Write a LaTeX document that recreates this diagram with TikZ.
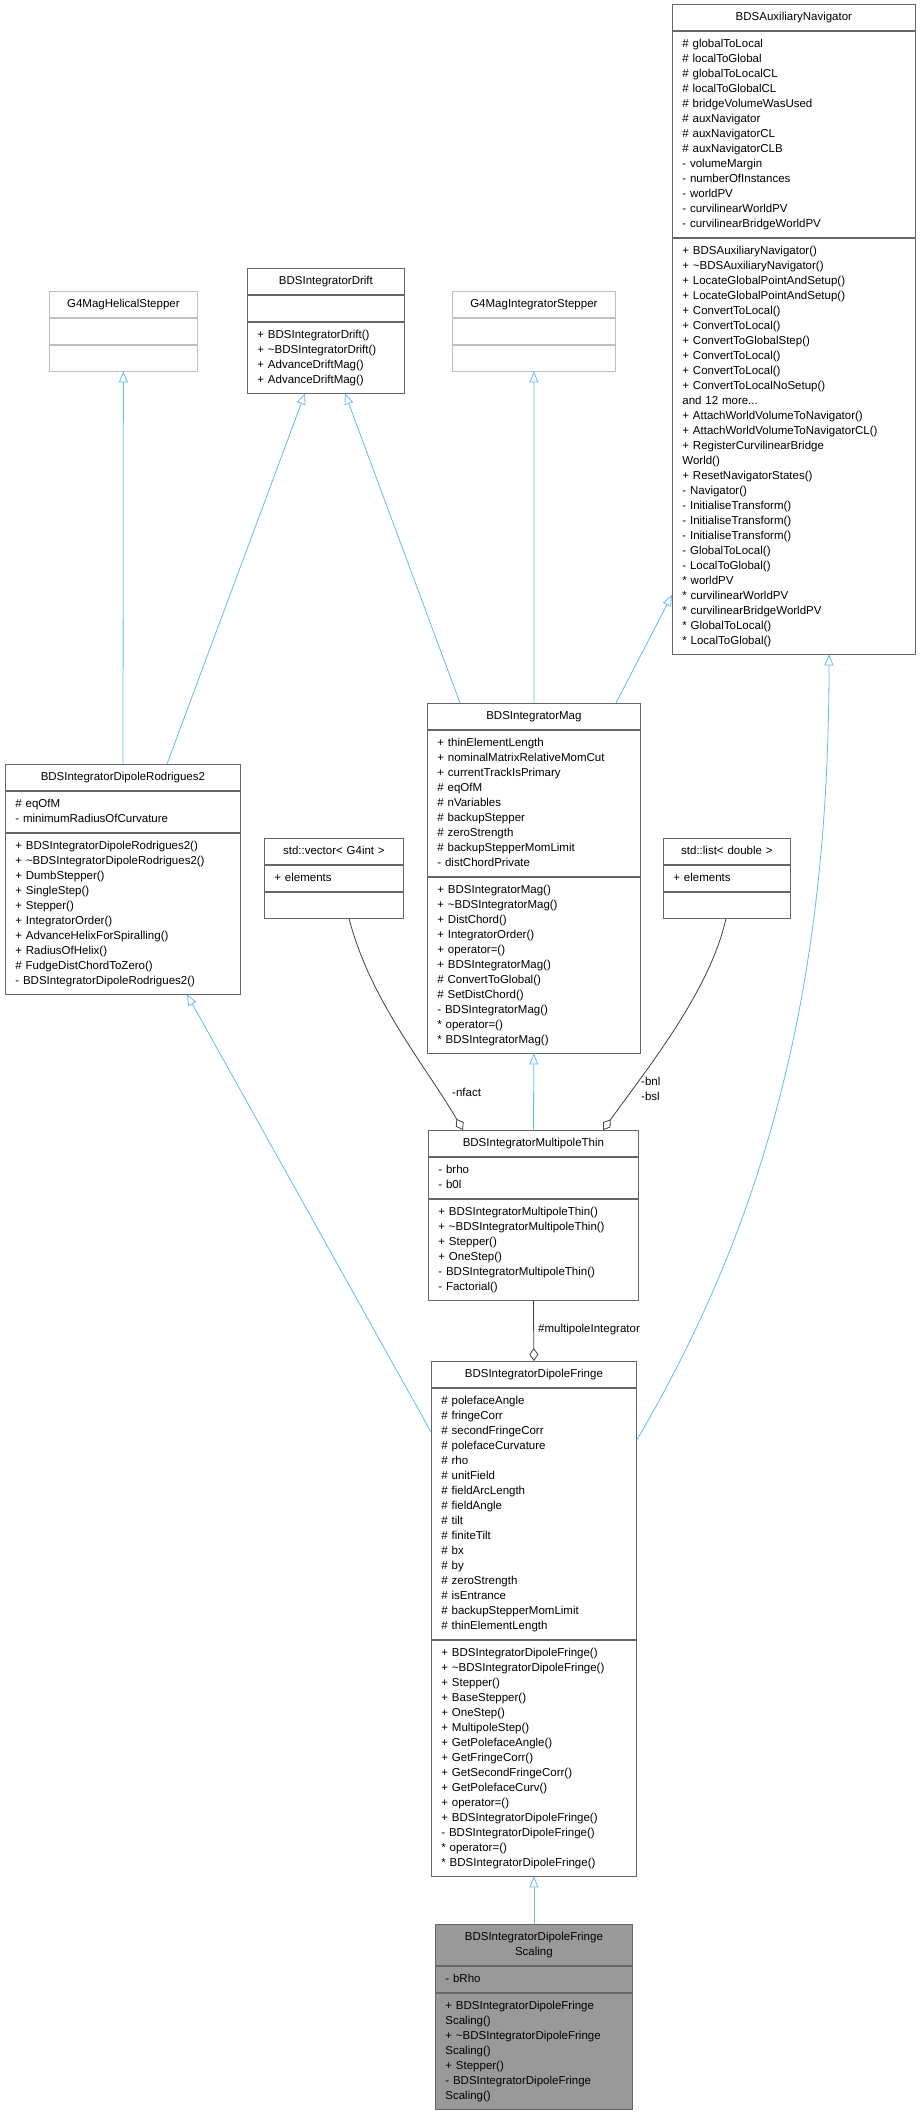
\documentclass[tikz,border=0pt]{standalone}
\usepackage{fontspec}
\setmainfont{Liberation Sans}
\usetikzlibrary{arrows.meta,calc}
\definecolor{inhc}{RGB}{99,184,255}
\definecolor{boxc}{RGB}{102,102,102}
\definecolor{g4c}{RGB}{191,191,191}
\definecolor{scf}{RGB}{153,153,153}
\tikzset{
 sect/.style={draw=boxc, line width=0.8pt, inner xsep=10pt, inner ysep=5.5pt, font=\fontsize{11.5}{15}\selectfont,
   execute at begin node=\strut, execute at end node=\strut, fill=white},
 g4box/.style={draw=g4c},
 gbox/.style={fill=scf},
 plain/.style={},
 inh/.style={draw=inhc, line width=0.8pt, -{Triangle[fill=white,length=11pt,width=9pt]}},
 agg/.style={draw=black!75, line width=0.8pt, {Diamond[fill=white,length=13pt,width=9pt]}-},
 lbl/.style={font=\fontsize{11.5}{15}\selectfont, inner sep=0pt, align=left}
}
\newcommand\umlclass[8]{%
 \node[sect,#8,anchor=north west,text width=#4pt-20pt,align=center] (#1t) at (#2,#3) {#5};
 \node[sect,#8,anchor=north west,text width=#4pt-20pt,align=left] (#1a) at (#1t.south west) {#6};
 \node[sect,#8,anchor=north west,text width=#4pt-20pt,align=left] (#1m) at (#1a.south west) {#7};
}
\begin{document}
\begin{tikzpicture}[x=1pt,y=-1pt]
\useasboundingbox (0,0) rectangle (920,2112);
\umlclass{aux}{672}{4}{243}{BDSAuxiliaryNavigator}
{\# globalToLocal\\\# localToGlobal\\\# globalToLocalCL\\\# localToGlobalCL\\\# bridgeVolumeWasUsed\\\# auxNavigator\\\# auxNavigatorCL\\\# auxNavigatorCLB\\- volumeMargin\\- numberOfInstances\\- worldPV\\- curvilinearWorldPV\\- curvilinearBridgeWorldPV}
{+ BDSAuxiliaryNavigator()\\+ \textasciitilde BDSAuxiliaryNavigator()\\+ LocateGlobalPointAndSetup()\\+ LocateGlobalPointAndSetup()\\+ ConvertToLocal()\\+ ConvertToLocal()\\+ ConvertToGlobalStep()\\+ ConvertToLocal()\\+ ConvertToLocal()\\+ ConvertToLocalNoSetup()\\and 12 more...\\+ AttachWorldVolumeToNavigator()\\+ AttachWorldVolumeToNavigatorCL()\\+ RegisterCurvilinearBridge\\World()\\+ ResetNavigatorStates()\\- Navigator()\\- InitialiseTransform()\\- InitialiseTransform()\\- InitialiseTransform()\\- GlobalToLocal()\\- LocalToGlobal()\\{}* worldPV\\{}* curvilinearWorldPV\\{}* curvilinearBridgeWorldPV\\{}* GlobalToLocal()\\{}* LocalToGlobal()}{plain}
\umlclass{drift}{247}{268}{157}{BDSIntegratorDrift}{}
{+ BDSIntegratorDrift()\\+ \textasciitilde BDSIntegratorDrift()\\+ AdvanceDriftMag()\\+ AdvanceDriftMag()}{plain}
\umlclass{hel}{49}{291}{148}{G4MagHelicalStepper}{}{}{g4box}
\umlclass{gfi}{452}{291}{163}{G4MagIntegratorStepper}{}{}{g4box}
\umlclass{mag}{427}{703}{213}{BDSIntegratorMag}
{+ thinElementLength\\+ nominalMatrixRelativeMomCut\\+ currentTrackIsPrimary\\\# eqOfM\\\# nVariables\\\# backupStepper\\\# zeroStrength\\\# backupStepperMomLimit\\- distChordPrivate}
{+ BDSIntegratorMag()\\+ \textasciitilde BDSIntegratorMag()\\+ DistChord()\\+ IntegratorOrder()\\+ operator=()\\+ BDSIntegratorMag()\\\# ConvertToGlobal()\\\# SetDistChord()\\- BDSIntegratorMag()\\{}* operator=()\\{}* BDSIntegratorMag()}{plain}
\umlclass{rod}{5}{764}{235}{BDSIntegratorDipoleRodrigues2}
{\# eqOfM\\- minimumRadiusOfCurvature}
{+ BDSIntegratorDipoleRodrigues2()\\+ \textasciitilde BDSIntegratorDipoleRodrigues2()\\+ DumbStepper()\\+ SingleStep()\\+ Stepper()\\+ IntegratorOrder()\\+ AdvanceHelixForSpiralling()\\+ RadiusOfHelix()\\\# FudgeDistChordToZero()\\- BDSIntegratorDipoleRodrigues2()}{plain}
\umlclass{vec}{264}{838}{139}{std::vector< G4int >}{+ elements}{}{plain}
\umlclass{lst}{663}{838}{127}{std::list< double >}{+ elements}{}{plain}
\umlclass{mt}{428}{1130}{210}{BDSIntegratorMultipoleThin}
{- brho\\- b0l}
{+ BDSIntegratorMultipoleThin()\\+ \textasciitilde BDSIntegratorMultipoleThin()\\+ Stepper()\\+ OneStep()\\- BDSIntegratorMultipoleThin()\\- Factorial()}{plain}
\umlclass{fr}{431}{1361}{205}{BDSIntegratorDipoleFringe}
{\# polefaceAngle\\\# fringeCorr\\\# secondFringeCorr\\\# polefaceCurvature\\\# rho\\\# unitField\\\# fieldArcLength\\\# fieldAngle\\\# tilt\\\# finiteTilt\\\# bx\\\# by\\\# zeroStrength\\\# isEntrance\\\# backupStepperMomLimit\\\# thinElementLength}
{+ BDSIntegratorDipoleFringe()\\+ \textasciitilde BDSIntegratorDipoleFringe()\\+ Stepper()\\+ BaseStepper()\\+ OneStep()\\+ MultipoleStep()\\+ GetPolefaceAngle()\\+ GetFringeCorr()\\+ GetSecondFringeCorr()\\+ GetPolefaceCurv()\\+ operator=()\\+ BDSIntegratorDipoleFringe()\\- BDSIntegratorDipoleFringe()\\{}* operator=()\\{}* BDSIntegratorDipoleFringe()}{plain}
\umlclass{sc}{435}{1924}{197}{BDSIntegratorDipoleFringe\\Scaling}
{- bRho}
{+ BDSIntegratorDipoleFringe\\Scaling()\\+ \textasciitilde BDSIntegratorDipoleFringe\\Scaling()\\+ Stepper()\\- BDSIntegratorDipoleFringe\\Scaling()}{gbox}
% inheritance
\draw[inh] ($(rodt.north west)+(118,0)$) -- (helm.south);
\draw[inh] ($(rodt.north west)+(162,0)$) -- ($(driftm.south west)+(58,0)$);
\draw[inh] ($(magt.north west)+(33,0)$) -- ($(driftm.south west)+(98,0)$);
\draw[inh] ($(magt.north west)+(107,0)$) -- (gfim.south);
\draw[inh] ($(magt.north west)+(189,0)$) -- ($(auxt.north west)+(0,591)$);
\draw[inh] ($(frt.north east)+(0,79)$) .. controls (760,1230) and (829,1000) .. ($(auxm.south west)+(157,0)$);
\draw[inh] ($(frt.north west)+(0,71)$) -- ($(rodm.south west)+(182,0)$);
\draw[inh] (mtt.north) -- (magm.south);
\draw[inh] (sct.north) -- (frm.south);
% aggregation
\draw[agg] ($(mtt.north west)+(35,0)$) .. controls (425,1065) and (370,1000) .. ($(vecm.south west)+(85,0)$);
\draw[agg] ($(mtt.north west)+(175,0)$) .. controls (650,1065) and (710,990) .. ($(lstm.south west)+(63,0)$);
\draw[agg] (frt.north) -- (mtm.south);
\node[lbl,anchor=west] (l1) at (452,1092) {-nfact};
\node[lbl,anchor=north west] (l2) at (641,1077) {-bnl\\-bsl};
\node[lbl,anchor=west] (l3) at (538,1330) {\#multipoleIntegrator};
\end{tikzpicture}
\end{document}
